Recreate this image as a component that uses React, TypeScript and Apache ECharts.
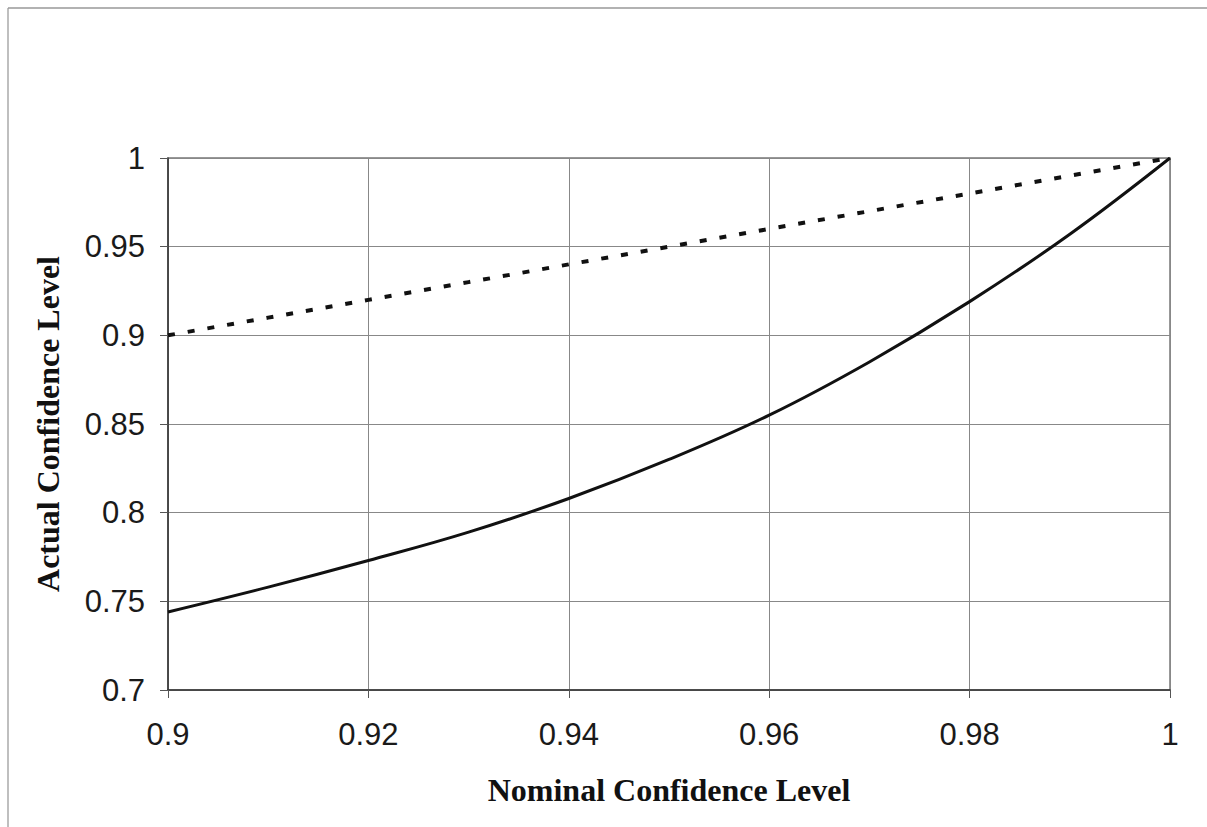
import React, { useEffect, useRef } from "react";
import * as echarts from "echarts";

const nominal = [0.9, 0.91, 0.92, 0.93, 0.94, 0.95, 0.96, 0.97, 0.98, 0.99, 1.0];
const actualSolid = [0.744, 0.758, 0.773, 0.789, 0.808, 0.83, 0.855, 0.885, 0.919, 0.957, 1.0];
const actualDotted = [0.9, 0.91, 0.92, 0.93, 0.94, 0.95, 0.96, 0.97, 0.98, 0.99, 1.0];

const xTicks = { min: 0.9, max: 1, interval: 0.02 };
const yTicks = { min: 0.7, max: 1, interval: 0.05 };
const xTitle = "Nominal Confidence Level";
const yTitle = "Actual Confidence Level";

const fmt = (v: number) => {
  const r = Math.round(v * 1000) / 1000;
  return String(r);
};

export default function App() {
  const ref = useRef<HTMLDivElement>(null);
  useEffect(() => {
    if (!ref.current) return;
    const chart = echarts.init(ref.current, null, { renderer: "svg" });
    const solid = nominal.map((x, i) => [x, actualSolid[i]]);
    const dotted = nominal.map((x, i) => [x, actualDotted[i]]);
    chart.setOption({
      animation: false,
      backgroundColor: "#ffffff",
      grid: {
        left: 168,
        top: 158,
        width: 1002,
        height: 532,
        show: true,
        borderColor: "#777",
        borderWidth: 1.5,
        backgroundColor: "transparent",
      },
      graphic: [
        { type: "line", shape: { x1: 8, y1: 8, x2: 8, y2: 827 }, style: { stroke: "#aaa", lineWidth: 1.5 } },
        { type: "line", shape: { x1: 8, y1: 8, x2: 1207, y2: 8 }, style: { stroke: "#999", lineWidth: 1.5 } },
      ],
      xAxis: {
        type: "value",
        min: xTicks.min,
        max: xTicks.max,
        interval: xTicks.interval,
        name: xTitle,
        nameLocation: "middle",
        nameGap: 84,
        nameTextStyle: { fontFamily: "Liberation Serif", fontWeight: "bold", fontSize: 32, color: "#111" },
        axisLine: { show: true, onZero: false, lineStyle: { color: "#333", width: 1.5 } },
        axisTick: { show: true, length: 8, lineStyle: { color: "#555" } },
        axisLabel: { formatter: fmt, fontFamily: "Liberation Sans", fontSize: 31, color: "#1a1a1a", margin: 29 },
        splitLine: { show: true, lineStyle: { color: "#888", width: 1 } },
      },
      yAxis: {
        type: "value",
        min: yTicks.min,
        max: yTicks.max,
        interval: yTicks.interval,
        name: yTitle,
        nameLocation: "middle",
        nameGap: 104,
        nameTextStyle: { fontFamily: "Liberation Serif", fontWeight: "bold", fontSize: 32, color: "#111" },
        axisLine: { show: true, onZero: false, lineStyle: { color: "#333", width: 1.5 } },
        axisTick: { show: true, length: 8, lineStyle: { color: "#555" } },
        axisLabel: { formatter: fmt, fontFamily: "Liberation Sans", fontSize: 31, color: "#1a1a1a", margin: 23 },
        splitLine: { show: true, lineStyle: { color: "#888", width: 1 } },
      },
      series: [
        {
          type: "line",
          data: dotted,
          showSymbol: false,
          symbol: "none",
          lineStyle: { color: "#111", width: 4, type: [7, 13], cap: "butt" },
        },
        {
          type: "line",
          data: solid,
          showSymbol: false,
          symbol: "none",
          smooth: 0.4,
          lineStyle: { color: "#111", width: 3 },
        },
      ],
    });
    return () => chart.dispose();
  }, []);
  return (
    <div
      ref={ref}
      style={{ position: "absolute", left: 0, top: 0, width: 1207, height: 827 }}
    />
  );
}
